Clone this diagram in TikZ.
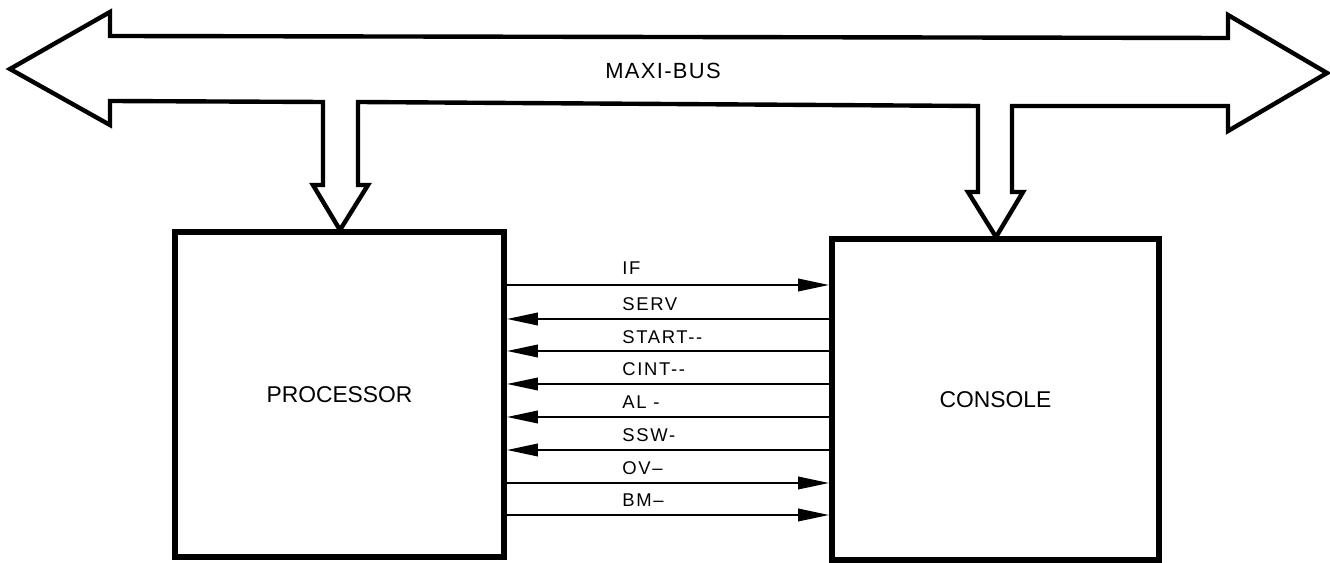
\documentclass[tikz,border=0pt]{standalone}
\usepackage{fontspec}
\setmainfont{Liberation Sans}
\newfontfamily\buslabelfont[LetterSpace=6]{Liberation Sans}
\newfontfamily\siglabelfont[LetterSpace=9]{Liberation Sans}
\usetikzlibrary{arrows.meta}

\begin{document}
\begin{tikzpicture}[
  x=0.02cm, y=-0.02cm,
  unit/.style={draw, line width=3.4pt, inner sep=0pt, font=\fontsize{13}{15}\selectfont},
  bus/.style={draw, line width=2.5pt, line join=miter},
  signal/.style={line width=1.2pt},
  toright/.style={signal, -{Triangle[length=0.62cm, width=0.25cm]}},
  toleft/.style={signal, {Triangle[length=0.62cm, width=0.25cm]}-},
  siglabel/.style={anchor=west, inner sep=0pt, font=\siglabelfont\fontsize{10.5}{12}\selectfont}
]
\useasboundingbox (0,0) rectangle (1330,563);

% the maxi-bus with its two drops
\draw[bus] (10,69) -- (110,12) -- (110,36) -- (1228,38) -- (1228,15) -- (1327,73)
  -- (1228,131) -- (1228,106) -- (1012,106) -- (1012,192) -- (1023,192) -- (996,237)
  -- (968,192) -- (978,192) -- (978,106) -- (358,102) -- (358,185) -- (368,185)
  -- (340,230) -- (313,185) -- (323,185) -- (323,102) -- (110,101) -- (110,125) -- cycle;
\node[font=\buslabelfont\fontsize{12.5}{14}\selectfont] (busname) at (663,71) {MAXI-BUS};

\node[unit, minimum width=6.58cm, minimum height=6.5cm] (processor) at (339.5,394.5) {PROCESSOR};
\node[unit, minimum width=6.54cm, minimum height=6.42cm] (console) at (995.5,399.5) {CONSOLE};

\node[siglabel] (lblif) at (622,268) {IF};
\node[siglabel] (lblserv) at (622,304) {SERV};
\node[siglabel] (lblstart) at (622,337) {START-{}-};
\node[siglabel] (lblcint) at (622,369) {CINT-{}-};
\node[siglabel] (lblal) at (622,402) {AL -};
\node[siglabel] (lblssw) at (622,435) {SSW-};
\node[siglabel] (lblov) at (622,468) {OV\textendash};
\node[siglabel] (lblbm) at (622,500) {BM\textendash};

\draw[toright] (processor.east |- 0,285) -- (console.west |- 0,285);
\draw[toleft] (processor.east |- 0,319) -- (console.west |- 0,319);
\draw[toleft] (processor.east |- 0,351) -- (console.west |- 0,351);
\draw[toleft] (processor.east |- 0,384) -- (console.west |- 0,384);
\draw[toleft] (processor.east |- 0,417) -- (console.west |- 0,417);
\draw[toleft] (processor.east |- 0,450) -- (console.west |- 0,450);
\draw[toright] (processor.east |- 0,483) -- (console.west |- 0,483);
\draw[toright] (processor.east |- 0,515) -- (console.west |- 0,515);
\end{tikzpicture}
\end{document}
